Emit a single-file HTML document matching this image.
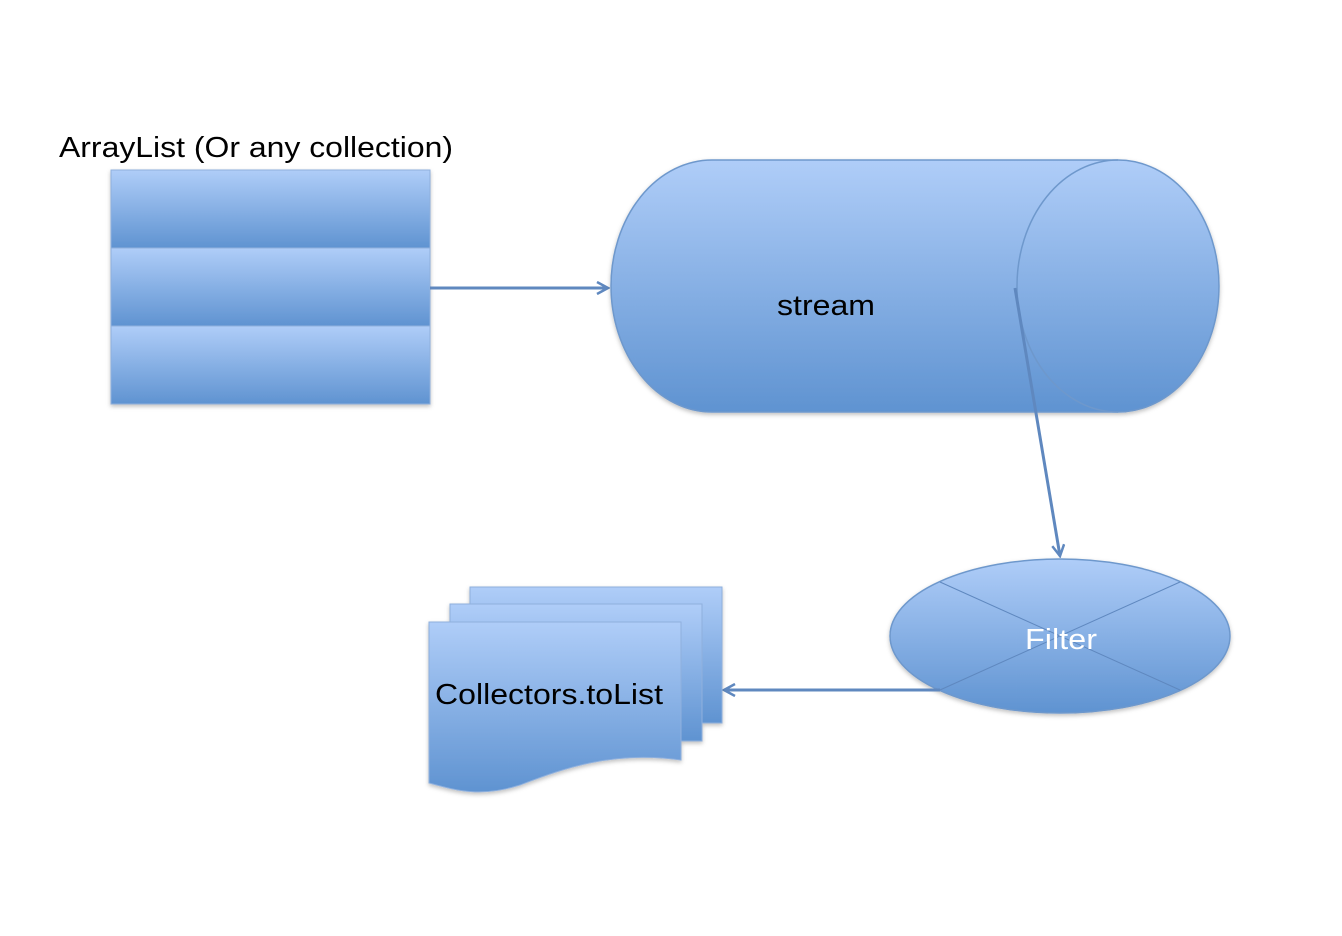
<!DOCTYPE html>
<html><head><meta charset="utf-8"><style>
html,body{margin:0;padding:0;background:#fff;}
svg{display:block;}
text{font-family:"Liberation Sans",sans-serif;}
</style></head><body>
<svg width="1342" height="936" viewBox="0 0 1342 936" xmlns="http://www.w3.org/2000/svg">
<defs>
<linearGradient id="g" x1="0" y1="0" x2="0" y2="1">
<stop offset="0" stop-color="#afcdf8"/><stop offset="1" stop-color="#5f93d1"/>
</linearGradient>
<marker id="ah" markerWidth="14" markerHeight="14" refX="12" refY="7" orient="auto" markerUnits="userSpaceOnUse">
<path d="M1,1 L12,7 L1,13" fill="none" stroke="#5f88bf" stroke-width="2.5"/>
</marker>
<filter id="sh" x="-10%" y="-10%" width="120%" height="130%"><feDropShadow dx="0" dy="2" stdDeviation="2" flood-color="#000" flood-opacity="0.25"/></filter>
</defs>
<text x="59" y="157" font-size="29" fill="#000" textLength="394" lengthAdjust="spacingAndGlyphs">ArrayList (Or any collection)</text>
<g filter="url(#sh)" stroke="#8fb0dd" stroke-width="1">
<rect x="111" y="170" width="319" height="78" fill="url(#g)"/>
<rect x="111" y="248" width="319" height="78" fill="url(#g)"/>
<rect x="111" y="326" width="319" height="78" fill="url(#g)"/>
</g>
<line x1="430" y1="288" x2="608" y2="288" stroke="#5f88bf" stroke-width="3" marker-end="url(#ah)"/>
<g filter="url(#sh)">
<path d="M712,160 L1118,160 A101,126 0 0 1 1118,412 L712,412 A101,126 0 0 1 712,160 Z" fill="url(#g)" stroke="#6e98cc" stroke-width="1.5"/>
</g>
<path d="M1118,160 A101,126 0 0 0 1118,412" fill="none" stroke="#6e98cc" stroke-width="1.5"/>
<text x="777" y="315" font-size="29" fill="#000" textLength="98" lengthAdjust="spacingAndGlyphs">stream</text>
<line x1="1015" y1="288" x2="1060" y2="556" stroke="#5f88bf" stroke-width="3" marker-end="url(#ah)"/>
<g filter="url(#sh)">
<ellipse cx="1060" cy="636" rx="170" ry="77" fill="url(#g)" stroke="#6e98cc" stroke-width="1.5"/>
</g>
<line x1="940" y1="582" x2="1180" y2="690" stroke="#5f88bf" stroke-width="1"/>
<line x1="1180" y1="582" x2="940" y2="690" stroke="#5f88bf" stroke-width="1"/>
<text x="1025" y="649" font-size="29" fill="#fff" textLength="72" lengthAdjust="spacingAndGlyphs">Filter</text>
<line x1="940" y1="690" x2="724" y2="690" stroke="#5f88bf" stroke-width="3" marker-end="url(#ah)"/>
<g filter="url(#sh)" stroke="#8fb0dd" stroke-width="1">
<rect x="470" y="587" width="252" height="136" fill="url(#g)"/>
<rect x="450" y="604" width="252" height="137" fill="url(#g)"/>
<path d="M429,622 L681,622 L681,760 C610,750 560,770 520,785 C480,798 455,790 429,783 Z" fill="url(#g)"/>
</g>
<text x="435" y="704" font-size="29" fill="#000" textLength="228" lengthAdjust="spacingAndGlyphs">Collectors.toList</text>
</svg>
</body></html>
